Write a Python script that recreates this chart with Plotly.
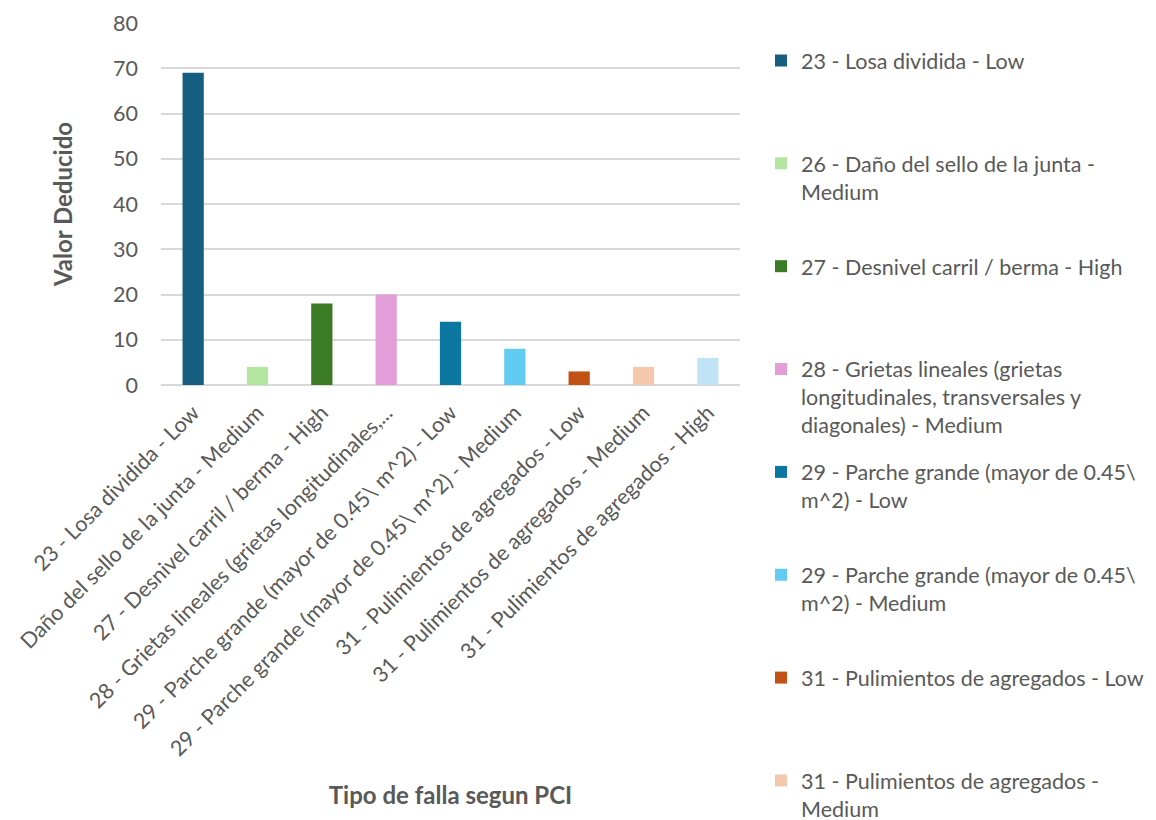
import plotly.graph_objects as go

# Deduct values per PCI distress type / severity
categories = [
    "23 - Losa dividida - Low",
    "26 - Daño del sello de la junta - Medium",
    "27 - Desnivel carril / berma - High",
    "28 - Grietas lineales (grietas longitudinales, transversales y diagonales) - Medium",
    "29 - Parche grande (mayor de 0.45\\ m^2) - Low",
    "29 - Parche grande (mayor de 0.45\\ m^2) - Medium",
    "31 - Pulimientos de agregados - Low",
    "31 - Pulimientos de agregados - Medium",
    "31 - Pulimientos de agregados - High",
]
values = [69, 4, 18, 20, 14, 8, 3, 4, 6]

tick_labels = [
    "23 - Losa dividida - Low",
    "Daño del sello de la junta - Medium",
    "27 - Desnivel carril / berma - High",
    "28 - Grietas lineales (grietas longitudinales,...",
    "29 - Parche grande (mayor de 0.45\\ m^2) - Low",
    "29 - Parche grande (mayor de 0.45\\ m^2) - Medium",
    "31 - Pulimientos de agregados - Low",
    "31 - Pulimientos de agregados - Medium",
    "31 - Pulimientos de agregados - High",
]

legend_labels = [
    "23 - Losa dividida - Low",
    "26 - Daño del sello de la junta -<br>Medium",
    "27 - Desnivel carril / berma - High",
    "28 - Grietas lineales (grietas<br>longitudinales, transversales y<br>diagonales) - Medium",
    "29 - Parche grande (mayor de 0.45\\<br>m^2) - Low",
    "29 - Parche grande (mayor de 0.45\\<br>m^2) - Medium",
    "31 - Pulimientos de agregados - Low",
    "31 - Pulimientos de agregados -<br>Medium",
    "31 - Pulimientos de agregados - High",
]
# the last entry falls below the bottom edge of the page, so it is not listed
legend_shown = [True, True, True, True, True, True, True, True, False]

colors = [
    "#165E80", "#B3E4A0", "#3C7B26", "#E39DD9", "#0C77A0",
    "#62CBF2", "#C15114", "#F5C8AD", "#C0E4F5",
]

TEXT = "#595959"
GRID = "#D9D9D9"
FONT = "Lato"
SIZE = 21.5

fig = go.Figure()
for cat, val, lab, show, col in zip(categories, values, legend_labels,
                                     legend_shown, colors):
    # pad every legend entry to three lines so the entries are evenly spaced
    n_lines = lab.count("<br>") + 1
    padded = lab + "<br> " * (3 - n_lines)
    fig.add_trace(go.Bar(
        x=[cat], y=[val], name=padded, legendgroup=cat, showlegend=show,
        marker=dict(color=col, line=dict(width=0)),
        width=0.33,
    ))

fig.update_layout(
    width=1156, height=820,
    margin=dict(l=161, r=416, t=23, b=435, autoexpand=False),
    paper_bgcolor="white", plot_bgcolor="white",
    barmode="relative",
    font=dict(family=FONT, size=SIZE, color=TEXT),
    showlegend=True,
    legend=dict(
        x=1.0363, y=0.953, xanchor="left", yanchor="top",
        valign="top", tracegroupgap=16, maxheight=1200,
        font=dict(family=FONT, size=SIZE, color=TEXT),
        bgcolor="rgba(0,0,0,0)", borderwidth=0,
    ),
)

fig.update_xaxes(
    tickvals=categories, ticktext=tick_labels, tickangle=-45,
    tickfont=dict(family=FONT, size=SIZE, color=TEXT),
    showgrid=False, showline=False, ticks="", ticklabelstandoff=10,
    title=dict(text="<b>Tipo de falla segun PCI</b>",
               font=dict(family=FONT, size=24, color=TEXT), standoff=27),
    automargin=False,
)
fig.update_yaxes(
    range=[0, 80], dtick=10,
    tickfont=dict(family=FONT, size=SIZE, color=TEXT),
    showgrid=True, gridcolor=GRID, gridwidth=1.5,
    zeroline=True, zerolinecolor=GRID, zerolinewidth=1.5,
    showline=False, ticks="", ticklabelstandoff=22,
    title=dict(text="<b>Valor Deducido</b>",
               font=dict(family=FONT, size=24, color=TEXT), standoff=33),
    automargin=False,
)

fig.write_html("out.html")
